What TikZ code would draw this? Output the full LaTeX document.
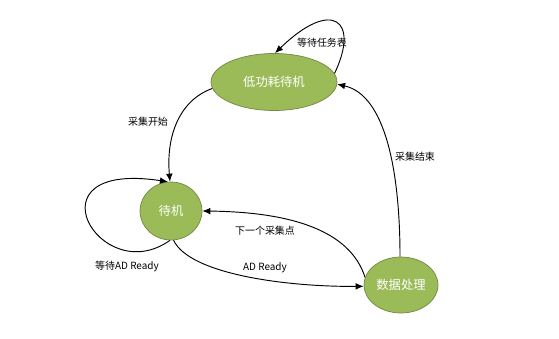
\documentclass[tikz,border=0pt]{standalone}
\usepackage{fontspec}
\setmainfont{Noto Sans CJK SC}
\usepackage{xcolor}
\usetikzlibrary{shapes.geometric, arrows.meta}
\definecolor{stategreen}{RGB}{155,187,89}
\definecolor{stateedge}{RGB}{113,137,63}

\begin{document}
\begin{tikzpicture}[
    x=0.03cm, y=-0.03cm,
    state/.style={ellipse, draw=stateedge, fill=stategreen, line width=0.6pt, inner sep=0pt, text=white, font=\fontsize{10.5}{12}\selectfont},
    arrow/.style={-{Latex[length=2.4mm, width=2mm]}, line width=0.8pt},
    lbl/.style={font=\fontsize{8.5}{10}\selectfont, inner sep=1pt}
]
\useasboundingbox (0,0) rectangle (559,339);

% states
\node[state, minimum width=3.78cm, minimum height=1.71cm] (lp) at (274,82) {低功耗待机};
\node[state, minimum width=1.86cm, minimum height=1.74cm] (dj) at (171,211) {待机};
\node[state, minimum width=2.22cm, minimum height=1.68cm] (sj) at (401,285) {数据处理};

% transitions
\draw[arrow] (lp.8) .. controls (360,20) and (332,-2) .. (lp.88);
\node[lbl] (l1) at (322,43) {等待任务表};

\draw[arrow] (lp.186) .. controls (180,100) and (166,135) .. (dj.92);
\node[lbl] (l2) at (148,122) {采集开始};

\draw[arrow] (dj.-92) .. controls (100,290) and (25,160) .. (dj.96);
\node[lbl] (l3) at (127,266) {等待AD Ready};

\draw[arrow] (dj.-85) .. controls (190,275) and (290,287) .. (sj.182);
\node[lbl] (l4) at (265,268) {AD Ready};

\draw[arrow] (sj.168) .. controls (350,230) and (290,212) .. (dj.0);
\node[lbl] (l5) at (265,231) {下一个采集点};

\draw[arrow] (sj.92) .. controls (400,170) and (385,95) .. (lp.-2);
\node[lbl] (l6) at (415,157) {采集结束};

\end{tikzpicture}
\end{document}
